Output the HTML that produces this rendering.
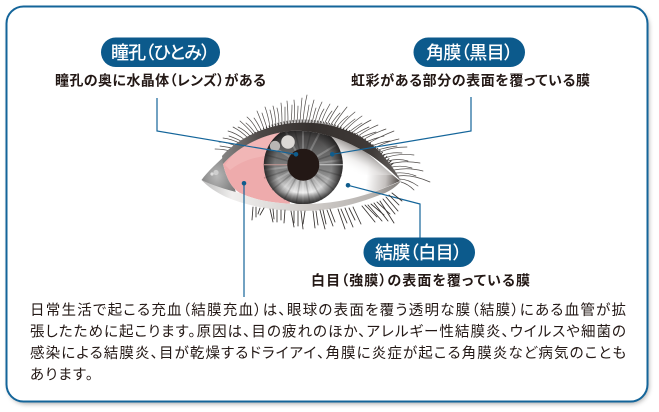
<!DOCTYPE html>
<html lang="ja">
<head>
<meta charset="utf-8">
<style>
html,body{margin:0;padding:0;width:659px;height:412px;background:#fff;overflow:hidden}
svg{display:block}
text{font-family:"Liberation Sans","Noto Sans CJK JP",sans-serif;font-feature-settings:"palt"}
.h{font-size:14px;font-weight:700;fill:#231815}
.p{font-size:14.5px;font-weight:400;fill:#231815}
.w{font-size:18px;font-weight:500;fill:#fff}
</style>
</head>
<body>
<svg xmlns="http://www.w3.org/2000/svg" width="659" height="412" viewBox="0 0 659 412">
<defs>
<filter id="sh" x="-5%" y="-5%" width="110%" height="110%"><feGaussianBlur stdDeviation="2.5"/></filter>
<linearGradient id="iris" x1="0" y1="0" x2="0" y2="1">
<stop offset="0" stop-color="#2f2c2c"/><stop offset=".35" stop-color="#666"/><stop offset=".62" stop-color="#8a8a8a"/><stop offset=".85" stop-color="#ececec"/><stop offset="1" stop-color="#8c8c8c"/>
</linearGradient>
<radialGradient id="irisEdge" cx=".5" cy=".5" r=".5">
<stop offset=".72" stop-color="#222" stop-opacity="0"/><stop offset="1" stop-color="#1d1b1b" stop-opacity=".85"/>
</radialGradient>
<linearGradient id="sclera" gradientUnits="userSpaceOnUse" x1="345" y1="170" x2="400" y2="175">
<stop offset="0" stop-color="#fff"/><stop offset=".4" stop-color="#fff"/><stop offset=".75" stop-color="#c4c0be"/><stop offset="1" stop-color="#4f4946"/>
</linearGradient>
<linearGradient id="scleraTop" gradientUnits="userSpaceOnUse" x1="352" y1="143" x2="340" y2="166">
<stop offset="0" stop-color="#8f8b89"/><stop offset=".55" stop-color="#e6e4e3" stop-opacity=".6"/><stop offset="1" stop-color="#fff" stop-opacity="0"/>
</linearGradient>
<linearGradient id="lid" gradientUnits="userSpaceOnUse" x1="202" y1="0" x2="402" y2="0">
<stop offset="0" stop-color="#999"/><stop offset=".14" stop-color="#7c7a79"/><stop offset=".3" stop-color="#4b4644"/><stop offset=".55" stop-color="#35302e"/><stop offset=".85" stop-color="#3f3a38"/><stop offset="1" stop-color="#6b6765"/>
</linearGradient>
<linearGradient id="low" gradientUnits="userSpaceOnUse" x1="202" y1="0" x2="402" y2="0">
<stop offset="0" stop-color="#bbb"/><stop offset=".15" stop-color="#f0efee"/><stop offset=".55" stop-color="#cfcbc8"/><stop offset=".85" stop-color="#b8b4b1"/><stop offset="1" stop-color="#7f7b78"/>
</linearGradient>
<radialGradient id="car" cx=".45" cy=".6" r=".65">
<stop offset="0" stop-color="#b8b8b8"/><stop offset=".6" stop-color="#8e8e8e"/><stop offset="1" stop-color="#777"/>
</radialGradient>
<clipPath id="ball"><path d="M223 164C238 147 262 134 290 131C305 130 320 133 333 137C345 141 357 147 367 153C376 160 384 168 400 181C370 195 340 204 303 204C275 204 255 200 240 193C232 188 227 180 223 164Z"/></clipPath>
</defs>

<!-- card -->
<rect x="8" y="9" width="641" height="395" rx="18" fill="#777" opacity=".6" filter="url(#sh)"/>
<rect x="6.5" y="6.5" width="641" height="395" rx="17" fill="#fff" stroke="#14659a" stroke-width="2"/>

<!-- upper lashes -->
<g fill="none" stroke="#4f4b49" stroke-width=".7" stroke-linecap="round">
<path d="M234 152Q224 149 215 149M236 149Q228 147 220 146M238 147Q228 142 219 142M241 144Q232 139 223 138M243 142Q235 138 229 136M245 140Q236 133 228 131M248 138Q241 131 233 127M250 136Q245 130 238 127M253 134Q247 127 240 121M255 133Q250 126 246 123M258 132Q253 122 247 117M261 130Q257 122 254 118M264 129Q260 118 257 111M267 128Q264 119 262 113M270 127Q268 115 265 107M273 126Q272 117 270 110M276 125Q275 113 273 106M279 125Q279 115 277 108M282 124Q282 112 281 103M285 124Q285 114 285 107M288 123Q288 110 287 101M291 123Q292 112 292 105M294 122Q295 109 294 100M297 122Q298 112 298 106M300 122Q301 108 302 98M303 122Q304 108 307 95M306 122Q308 112 309 105M309 122Q311 110 314 100M312 123Q314 114 316 108M315 123Q317 112 322 102M318 124Q320 115 324 109M321 124Q324 114 330 104M324 125Q327 117 332 111M327 125Q331 116 338 106M330 126Q334 119 340 113M333 127Q338 118 347 107M336 128Q341 121 348 116M339 129Q345 120 355 112M342 130Q348 124 355 119M345 131Q352 123 362 116M348 133Q355 127 362 123M351 134Q359 126 371 120M354 135Q362 130 369 127M357 137Q366 130 378 125M360 138Q369 134 376 132M363 140Q372 134 386 129M366 142Q375 138 384 136M369 143Q379 137 394 131M372 146Q381 142 390 141M375 148Q385 142 399 139M378 150Q387 147 397 146M380 152Q392 147 407 147M383 155Q392 152 402 153M385 158Q398 153 414 155M388 161Q398 158 408 161M390 164Q404 160 420 163M392 167Q402 165 412 168M394 170Q408 167 423 171M396 173Q406 172 416 176M398 176Q412 174 430 182M399 179Q408 179 418 186M401 182Q408 184 414 190"/>
</g>
<path d="M236 148C258 130 280 122 303 122C335 122 368 138 392 165" fill="none" stroke="#3a3634" stroke-width="5" stroke-dasharray="1 2"/>

<!-- caruncle + inner corner -->
<path d="M201.5 180C208 171 217 163 230 151L232 178L236 193C222 190 210 186 201.5 180Z" fill="url(#car)"/>
<circle cx="216" cy="172.5" r="2.6" fill="#cfcfcf"/><circle cx="212" cy="174" r="1.6" fill="#dedede"/>

<!-- eyeball -->
<g clip-path="url(#ball)">
<rect x="220" y="125" width="185" height="85" fill="url(#sclera)"/>
<rect x="325" y="130" width="70" height="45" fill="url(#scleraTop)"/>
<path d="M215 125H290V210H215Z" fill="#eeabac"/>
<path d="M225 165L238 148L275 133L285 155C262 155 245 158 230 170Z" fill="#f1b6b6"/>
<circle cx="303.3" cy="164.7" r="39.5" fill="url(#iris)"/>
<g stroke="#fff" stroke-opacity=".22" stroke-width="2" fill="none">
<path d="M303 165L303 204M303 165L290 203M303 165L316 203M303 165L278 195M303 165L328 195M303 165L268 184M303 165L338 184M303 165L264 170M303 165L342 160M303 165L270 145M303 165L336 145M303 165L285 130M303 165L321 130M303 165L303 127"/>
</g>
<g stroke="#000" stroke-opacity=".18" stroke-width="1.5" fill="none">
<path d="M303 165L296 204M303 165L310 204M303 165L284 200M303 165L322 200M303 165L272 190M303 165L334 190M303 165L264 178M303 165L342 176M303 165L266 155M303 165L340 152M303 165L294 127M303 165L312 127"/>
</g>
<circle cx="303.3" cy="164.7" r="39.5" fill="url(#irisEdge)"/>
<path d="M264 164.7H288" stroke="#c89a96" stroke-width="1"/>
<path d="M319 164.7H343" stroke="#cfcfcf" stroke-width="1"/>
<circle cx="303.3" cy="164.7" r="16" fill="#231815"/>
<circle cx="288" cy="142" r="6.8" fill="#dcd9d6"/>
<circle cx="275" cy="146" r="5.2" fill="#b9b6b4"/>
</g>

<!-- upper lid -->
<path d="M222 156C240 136 272 122.500 303 122.500C333 122.500 362 133 380 152C390 163 396 172 401 181C392 172 380 161 367 153C357 147 345 141 333 137C320 133 305 130 290 131C262 134 238 147 223 164Z" fill="url(#lid)"/>

<!-- lower lid -->
<path d="M201.500 180C212 185 224 189 240 193C255 200 275 204 303 204C340 204 370 195 401 181C396 187 391 190 385 193C355 205 330 211 303 211C270 211 245 205 226 197C216 192 208 187 201.500 180Z" fill="url(#low)"/>

<!-- connectors -->
<g fill="none" stroke="#14659a" stroke-width="1.2">
<path d="M157 98V131L296 154.300"/>
<path d="M471 97V131L332.300 154.300"/>
<path d="M348 185.300L420 204V238"/>
<path d="M244 183.300V297"/>
</g>
<g fill="#0f5c8c">
<circle cx="296" cy="154.300" r="2.300"/>
<circle cx="332.300" cy="154.300" r="2.300"/>
<circle cx="348" cy="185.300" r="2.300"/>
<circle cx="244" cy="183.300" r="2.300"/>
</g>

<!-- pills -->
<rect x="101" y="37.500" width="119" height="29.500" rx="14.700" fill="#0c5a8c"/>
<rect x="413.500" y="37.500" width="111.500" height="29.500" rx="14.700" fill="#0c5a8c"/>
<rect x="363.500" y="237.500" width="111.500" height="29.500" rx="14.700" fill="#0c5a8c"/>
<text class="w" x="111" y="59" textLength="99" lengthAdjust="spacing">瞳孔（ひとみ）</text>
<text class="w" x="426" y="59" textLength="87" lengthAdjust="spacing">角膜（黒目）</text>
<text class="w" x="375" y="259" textLength="87" lengthAdjust="spacing">結膜（白目）</text>

<!-- headings -->
<text class="h" x="55" y="85.500" textLength="211" lengthAdjust="spacing">瞳孔の奥に水晶体（レンズ）がある</text>
<text class="h" x="351" y="85.500" textLength="239" lengthAdjust="spacing">虹彩がある部分の表面を覆っている膜</text>
<text class="h" x="311" y="285.500" textLength="219" lengthAdjust="spacing">白目（強膜）の表面を覆っている膜</text>

<!-- body -->
<text class="p" x="30" y="315" textLength="596" lengthAdjust="spacing">日常生活で起こる充血（結膜充血）は、眼球の表面を覆う透明な膜（結膜）にある血管が拡</text>
<text class="p" x="30" y="336.500" textLength="596" lengthAdjust="spacing">張したために起こります。原因は、目の疲れのほか、アレルギー性結膜炎、ウイルスや細菌の</text>
<text class="p" x="30" y="358" textLength="596" lengthAdjust="spacing">感染による結膜炎、目が乾燥するドライアイ、角膜に炎症が起こる角膜炎など病気のことも</text>
<text class="p" x="30" y="379.500" textLength="63" lengthAdjust="spacing">あります。</text>

<!-- lower lashes, last so nothing paints over them -->
<g fill="none" stroke="#35312f" stroke-width=".85" stroke-linecap="round">
<line x1="253" y1="207" x2="252" y2="220"/><line x1="256" y1="207" x2="256" y2="217"/><line x1="260" y1="208" x2="258" y2="214"/><line x1="264" y1="208" x2="260" y2="215"/>
<line x1="270" y1="209" x2="273" y2="222"/><line x1="273" y1="209" x2="274" y2="219"/><line x1="277" y1="210" x2="277" y2="222"/><line x1="281" y1="210" x2="281" y2="220"/><line x1="285" y1="210" x2="284" y2="223"/>
<line x1="291" y1="211" x2="294" y2="227"/><line x1="294" y1="211" x2="294" y2="223"/><line x1="298" y1="211" x2="298" y2="226"/><line x1="301" y1="211" x2="303" y2="229"/><line x1="305" y1="211" x2="303" y2="224"/>
<line x1="313" y1="211" x2="315" y2="228"/><line x1="316" y1="211" x2="318" y2="225"/><line x1="320" y1="210" x2="325" y2="229"/><line x1="323" y1="210" x2="326" y2="224"/><line x1="327" y1="210" x2="333" y2="226"/><line x1="330" y1="209" x2="335" y2="222"/>
<line x1="338" y1="209" x2="345" y2="229"/><line x1="341" y1="209" x2="347" y2="223"/><line x1="345" y1="208" x2="353" y2="227"/><line x1="349" y1="208" x2="355" y2="220"/><line x1="353" y1="207" x2="361" y2="224"/>
<line x1="362" y1="206" x2="375" y2="222"/><line x1="365" y1="205" x2="377" y2="217"/><line x1="368" y1="205" x2="382" y2="221"/><line x1="371" y1="204" x2="384" y2="215"/><line x1="374" y1="203" x2="388" y2="221"/><line x1="377" y1="202" x2="390" y2="214"/><line x1="380" y1="201" x2="394" y2="223"/><line x1="383" y1="199" x2="395" y2="214"/><line x1="386" y1="197" x2="398" y2="211"/><line x1="389" y1="195" x2="399" y2="205"/><line x1="392" y1="193" x2="402" y2="201"/>
</g>
</svg>
</body>
</html>
